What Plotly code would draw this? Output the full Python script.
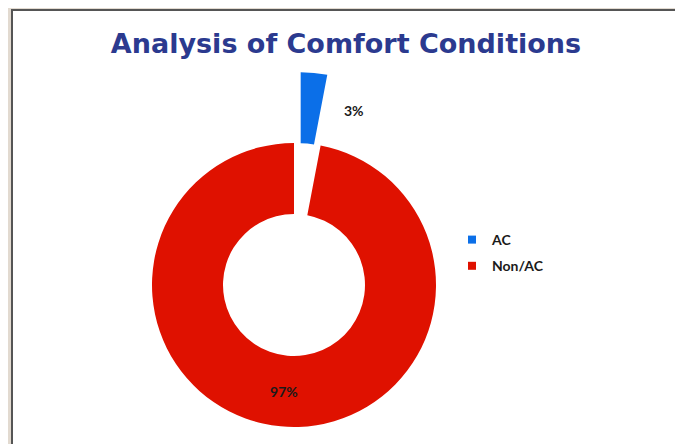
"""Donut chart: analysis of comfort conditions (AC vs Non/AC)."""

import math

import plotly.graph_objects as go

labels = ["AC", "Non/AC"]
values = [3, 97]
colors = ["#0b6fe8", "#df1100"]

OFF = 8  # page body margin shifts the figure by this much
W, H = 683 - OFF, 444 - OFF
CX, CY, R = 294 - OFF, 285 - OFF, 142  # donut centre and outer radius in px
HOLE = 0.5
PULL = 0.5

total = sum(values)
pcts = [f"{round(100 * v / total)}%" for v in values]
clear = "rgba(0,0,0,0)"


def px(x):
    return (x - OFF) / W


def py(y):
    return 1 - (y - OFF) / H


def domain(cx, cy, r):
    return {
        "x": [(cx - r) / W, (cx + r) / W],
        "y": [(H - cy - r) / H, (H - cy + r) / H],
    }


# pulled-out AC slice: shift its centre along the slice bisector
theta = math.radians(360 * values[0] / total / 2)
bx = CX + PULL * R * math.sin(theta)
by = CY - PULL * R * math.cos(theta)

label_font = {"family": "Lato", "size": 14, "color": "#1a1a1a", "weight": "bold"}

fig = go.Figure()

# main ring (Non/AC), AC slot left empty
fig.add_trace(
    go.Pie(
        labels=labels,
        values=values,
        hole=HOLE,
        sort=False,
        direction="clockwise",
        rotation=0,
        marker={"colors": [clear, colors[1]], "line": {"width": 0}},
        text=["", pcts[1]],
        textinfo="text",
        textposition="inside",
        insidetextorientation="horizontal",
        textfont=label_font,
        domain=domain(CX, CY, R),
        showlegend=False,
        hoverinfo="label+percent",
    )
)

# exploded AC slice
fig.add_trace(
    go.Pie(
        labels=labels,
        values=values,
        hole=HOLE,
        sort=False,
        direction="clockwise",
        rotation=0,
        marker={"colors": [colors[0], clear], "line": {"width": 0}},
        textinfo="none",
        domain=domain(bx, by, R),
        showlegend=False,
        hoverinfo="label+percent",
    )
)

# legend entries
for lab, col in zip(labels, colors):
    fig.add_trace(
        go.Scatter(
            x=[None],
            y=[None],
            mode="markers",
            name=lab,
            legendgroup=lab,
            marker={"symbol": "square", "size": 8, "color": col},
        )
    )

fig.add_annotation(
    text=pcts[0],
    x=px(354),
    y=py(111),
    xref="paper",
    yref="paper",
    xanchor="center",
    yanchor="middle",
    showarrow=False,
    font=label_font,
)

fig.add_shape(
    type="rect",
    xref="paper",
    yref="paper",
    x0=px(12),
    x1=px(680),
    y0=-0.1,
    y1=py(10),
    fillcolor="white",
    line={"color": "#555555", "width": 2},
    layer="below",
)

fig.update_layout(
    width=W,
    height=H,
    margin={"l": 0, "r": 0, "t": 0, "b": 0},
    paper_bgcolor="#e2dad0",
    plot_bgcolor="rgba(0,0,0,0)",
    title={
        "text": "Analysis of Comfort Conditions",
        "x": px(346),
        "xanchor": "center",
        "y": py(44),
        "yanchor": "middle",
        "font": {"family": "DejaVu Sans", "size": 27, "color": "#2b3a8f", "weight": "bold"},
    },
    xaxis={"visible": False},
    yaxis={"visible": False},
    legend={
        "x": px(452),
        "y": py(224),
        "xanchor": "left",
        "yanchor": "top",
        "tracegroupgap": 5,
        "bgcolor": "rgba(0,0,0,0)",
        "font": label_font,
    },
)

fig.write_html("out.html")
